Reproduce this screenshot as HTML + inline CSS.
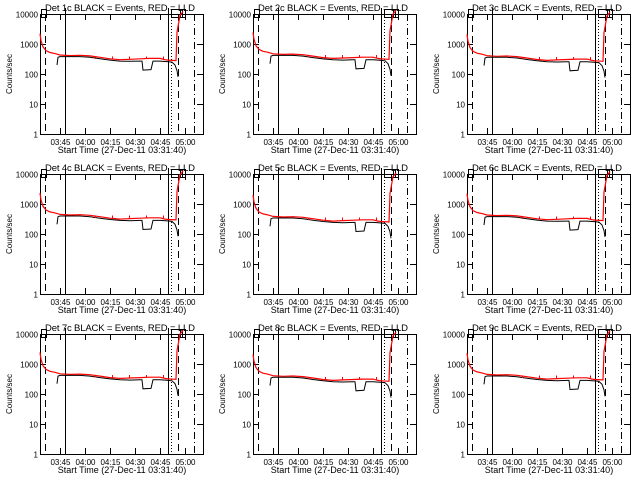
<!DOCTYPE html>
<html><head><meta charset="utf-8"><style>
html,body{margin:0;padding:0;background:#fff}
svg{display:block}
text{font-family:"Liberation Sans",sans-serif;fill:#000}
</style></head><body>
<svg id="s" width="640" height="480" xmlns="http://www.w3.org/2000/svg"></svg>
<script>
const s=document.getElementById('s');let h='';
const L=40,R=203,T=14,B=134;
function Y(v){return B-30*Math.log10(v);}
for(let r=0;r<3;r++)for(let c=0;c<3;c++){
 const ox=Math.round(c*213.33),oy=r*160,n=r*3+c+1;
 h+=`<g transform="translate(${ox},${oy})" shape-rendering="crispEdges">`;
 h+=`<text x="120" y="11" font-size="9.5" text-anchor="middle" textLength="150">Det ${n}c BLACK = Events, RED = LLD</text>`;
 h+=`<rect x="${L}.5" y="${T}.5" width="${R-L}" height="${B-T}" fill="none" stroke="#000" stroke-width="1"/>`;
 const yl=['1','10','100','1000','10000'];
 for(let d=0;d<5;d++){const y=Math.round(Y(Math.pow(10,d)))+.5;
  h+=`<text x="${L-2}" y="${y+3}" font-size="8" text-anchor="end">${yl[d]}</text>`;
  h+=`<line x1="${L}" x2="${L+6}" y1="${y}" y2="${y}" stroke="#000"/><line x1="${R}" x2="${R-6}" y1="${y}" y2="${y}" stroke="#000"/>`;
 }
 h+=`<text transform="translate(12,74) rotate(-90)" font-size="8" text-anchor="middle">Counts/sec</text>`;
 const xl=['03:45','04:00','04:15','04:30','04:45','05:00'];
 for(let i=0;i<6;i++){const x=Math.round(59.5+i*25.1)+.5;
  h+=`<text x="${x}" y="145" font-size="8" text-anchor="middle">${xl[i]}</text>`;
  h+=`<line x1="${x}" x2="${x}" y1="${B}" y2="${B-6}" stroke="#000"/><line x1="${x}" x2="${x}" y1="${T}" y2="${T+6}" stroke="#000"/>`;}
 h+=`<text x="122" y="153" font-size="9" text-anchor="middle">Start Time (27-Dec-11 03:31:40)</text>`;
 h+=`<line x1="45.5" x2="45.5" y1="${T}" y2="${B}" stroke="#000" stroke-dasharray="7,4"/>`;
 h+=`<line x1="65.5" x2="65.5" y1="8" y2="${B}" stroke="#000"/>`;
 h+=`<line x1="168.5" x2="168.5" y1="8" y2="${B}" stroke="#000"/>`;
 h+=`<line x1="171.5" x2="171.5" y1="${T}" y2="${B}" stroke="#000" stroke-dasharray="1,2"/>`;
 h+=`<line x1="178.5" x2="178.5" y1="${T}" y2="${B}" stroke="#000" stroke-dasharray="7,4"/>`;
 h+=`<line x1="194.5" x2="194.5" y1="${T}" y2="${B}" stroke="#000" stroke-dasharray="7,3,1,3"/>`;
 h+=`<path d="M41.5 9.5 H46.5 V17.5 H41.5 Z M171.5 9.5 H182.5 V17.5 H171.5 Z M180.5 9.5 H185.5 V17.5 H180.5Z" fill="none" stroke="#000"/>`;
 const k=1+0.05*((n*7)%5-2);
 const red=[[40,2200],[41,1300],[43,800],[46,600],[50,520],[55,480],[60,430],[70,410],[80,420],[90,400],[100,360],[110,320],[120,300],[130,310],[140,320],[150,330],[160,330],[165,300],[168,290],[176,280],[177,2500],[180,9000],[183,12000]];
 let d='';red.forEach((p,i)=>{d+=(i?'L':'M')+p[0]+' '+Y(p[1]*k).toFixed(1)+' ';});
 h+=`<path d="${d}" fill="none" stroke="#f00" stroke-width="1.2" shape-rendering="auto"/>`;
 const blk=[[57,200],[58,360],[60,380],[70,380],[80,380],[90,360],[100,320],[110,290],[120,270],[130,265],[140,270],[142,270],[143,135],[151,140],[153,270],[160,270],[167,260],[172,250],[175,200],[177,130],[178,80]];
 d='';blk.forEach((p,i)=>{d+=(i?'L':'M')+p[0]+' '+Y(p[1]*k).toFixed(1)+' ';});
 h+=`<path d="${d}" fill="none" stroke="#000" stroke-width="1" shape-rendering="auto"/>`;
 for(let i=0;i<5;i++){const x=95.5+i*17;h+=`<line x1="${x}" x2="${x}" y1="${Y(320*k)}" y2="${Y(390*k)}" stroke="#f00"/>`;}
 h+='</g>';
}
s.innerHTML=h;
</script>
</body></html>
